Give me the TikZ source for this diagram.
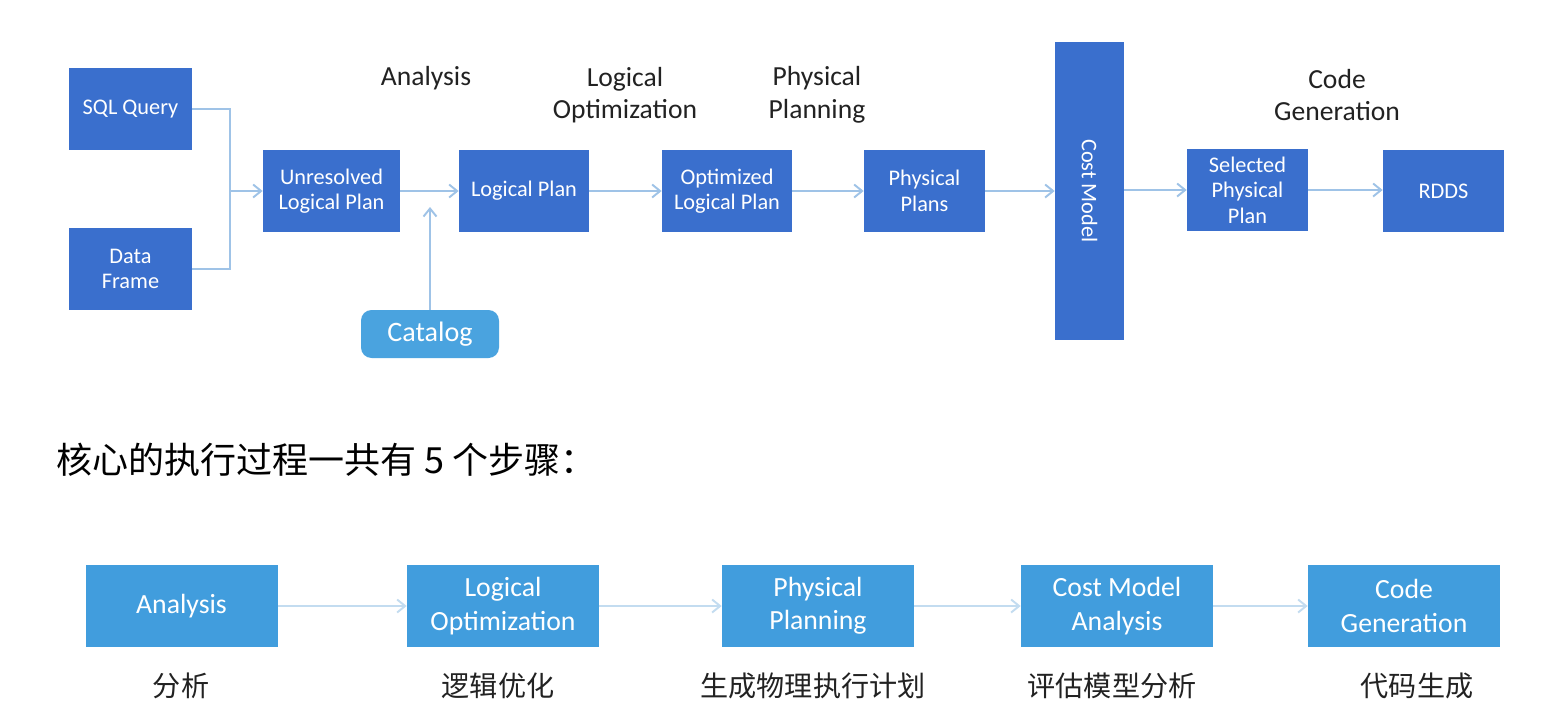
\documentclass[tikz,border=0pt]{standalone}
\usepackage{fontspec}
\setmainfont{Carlito}
\newfontfamily\cjkfont{Noto Sans CJK SC}
\usetikzlibrary{arrows.meta,positioning}

\definecolor{planblue}{HTML}{3A6FCD}
\definecolor{stageblue}{HTML}{419DDD}
\definecolor{catblue}{HTML}{4AA3DF}
\definecolor{flowline}{HTML}{9FC3E7}
\definecolor{stageline}{HTML}{C3DCF0}
\definecolor{labeltext}{HTML}{222222}

\tikzset{
  planbox/.style={fill=planblue, text=white, align=center, inner sep=0pt,
    font=\fontsize{12.7}{14.5}\selectfont},
  stagebox/.style={fill=stageblue, text=white, align=center, inner sep=0pt,
    minimum width=192*0.02cm, minimum height=82*0.02cm,
    font=\fontsize{15.8}{19}\selectfont},
  catbox/.style={fill=catblue, text=white, rounded corners=6pt, inner sep=0pt,
    minimum width=138*0.02cm, minimum height=48*0.02cm,
    font=\fontsize{16}{18}\selectfont},
  phaselbl/.style={text=labeltext, align=center, font=\fontsize{15.7}{18.5}\selectfont},
  cnlbl/.style={text=labeltext, font=\cjkfont\fontsize{16}{18}\selectfont},
  flow/.style={draw=flowline, line width=1.1pt,
    -{Straight Barb[length=1.6mm,width=2.6mm]}},
  stageflow/.style={draw=stageline, line width=1.1pt,
    -{Straight Barb[length=1.6mm,width=2.6mm]}},
}

\begin{document}
\begin{tikzpicture}[x=0.02cm, y=-0.02cm]
  \useasboundingbox[fill=white] (0,0) rectangle (1554,724);

  % Inputs
  \node[planbox, minimum width=123*0.02cm, minimum height=82*0.02cm] (sql) at (130.5,109) {SQL Query};
  \node[planbox, minimum width=123*0.02cm, minimum height=82*0.02cm] (df) at (130.5,269) {Data\\Frame};

  % Plan chain
  \node[planbox, minimum width=137*0.02cm, minimum height=82*0.02cm] (unres) at (331.5,191) {Unresolved\\Logical Plan};
  \node[planbox, minimum width=130*0.02cm, minimum height=82*0.02cm] (logical) at (524,191) {Logical Plan};
  \node[planbox, minimum width=130*0.02cm, minimum height=82*0.02cm] (optim) at (727,191) {Optimized\\Logical Plan};
  \node[planbox, minimum width=121*0.02cm, minimum height=82*0.02cm] (phys) at (924.5,191) {Physical\\Plans};
  \node[planbox, minimum width=69*0.02cm, minimum height=298*0.02cm] (cost) at (1089.5,191) {};
  \node[text=white, rotate=-90, font=\fontsize{12.7}{14.5}\selectfont] (costtxt) at (cost.center) {Cost Model};
  \node[planbox, minimum width=121*0.02cm, minimum height=82*0.02cm] (selected) at (1247.5,190) {Selected\\Physical\\Plan};
  \node[planbox, minimum width=121*0.02cm, minimum height=82*0.02cm] (rdds) at (1443.5,191) {RDDS};
  \node[catbox] (catalog) at (430,334) {Catalog};

  % Phase labels
  \node[phaselbl] (lblana) at (426,78) {Analysis};
  \node[phaselbl] (lbllog) at (625,95) {Logical\\Optimization};
  \node[phaselbl] (lblphy) at (817,95) {Physical\\Planning};
  \node[phaselbl] (lblcode) at (1337,95) {Code\\Generation};

  % Connectors
  \coordinate (merge) at (230,191);
  \coordinate (catend) at (430,207);
  \draw[draw=flowline, line width=1.1pt] (sql.east) -| (merge);
  \draw[draw=flowline, line width=1.1pt] (df.east) -| (merge);
  \draw[flow] (merge) -- (unres.west);
  \draw[flow] (unres.east) -- (logical.west);
  \draw[flow] (catalog.north) -- (catend);
  \draw[flow] (logical.east) -- (optim.west);
  \draw[flow] (optim.east) -- (phys.west);
  \draw[flow] (phys.east) -- (cost.west);
  \draw[flow] (cost.east |- selected) -- (selected.west);
  \draw[flow] (selected.east) -- (rdds.west |- selected);

  % Heading
  \node[anchor=west, text=black, font=\cjkfont\fontsize{20.5}{22}\selectfont] (heading) at (50,460) {核心的执行过程一共有 5 个步骤：};

  % Five steps
  \node[stagebox] (s1) at (181.5,606) {Analysis};
  \node[stagebox] (s2) at (503,606) {Logical\\Optimization};
  \node[stagebox] (s3) at (818,606) {Physical\\Planning};
  \node[stagebox] (s4) at (1117,606) {Cost Model\\Analysis};
  \node[stagebox] (s5) at (1404,606) {Code\\Generation};
  \foreach \a/\b in {s1/s2, s2/s3, s3/s4, s4/s5}
    \draw[stageflow] (\a.east) -- (\b.west);

  \node[cnlbl] (c1) at (181,686) {分析};
  \node[cnlbl] (c2) at (498,686) {逻辑优化};
  \node[cnlbl] (c3) at (813,686) {生成物理执行计划};
  \node[cnlbl] (c4) at (1112,686) {评估模型分析};
  \node[cnlbl] (c5) at (1417,686) {代码生成};
\end{tikzpicture}
\end{document}
